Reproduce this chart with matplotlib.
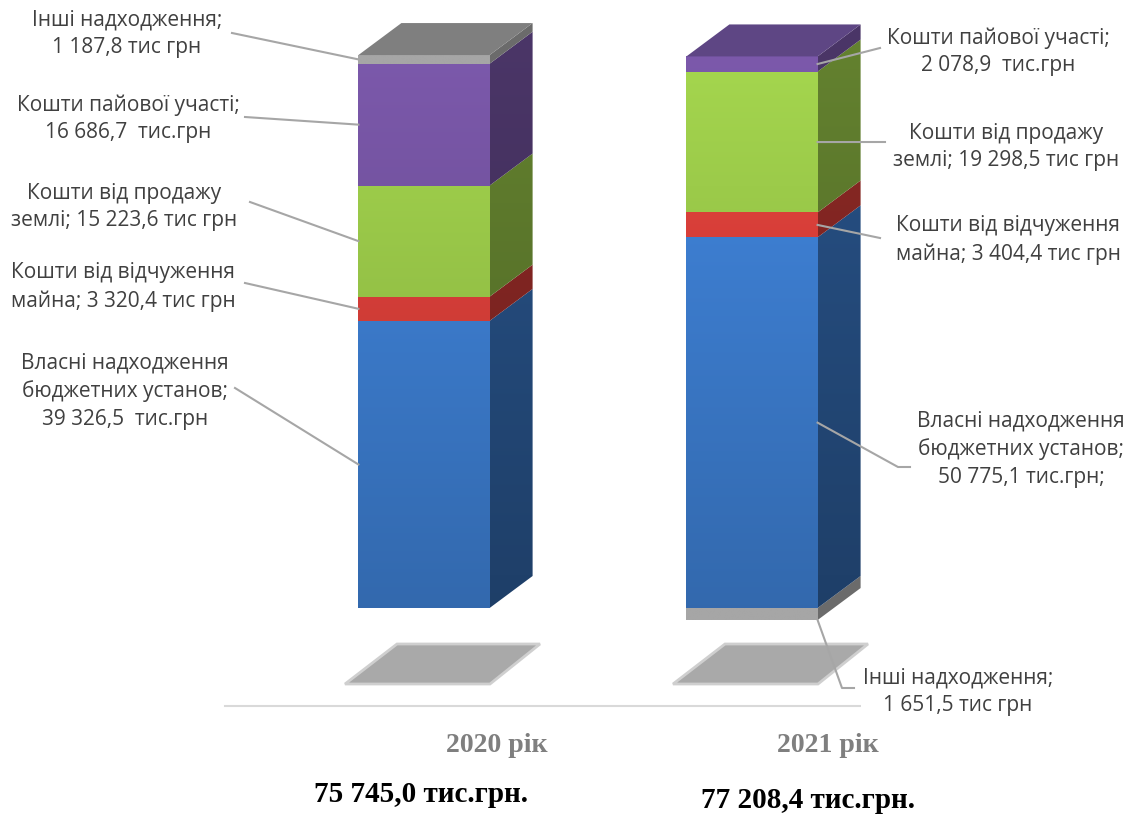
import numpy as np
import matplotlib
matplotlib.use("Agg")
import matplotlib.pyplot as plt
from matplotlib.patches import Polygon
from matplotlib.colors import to_rgb

W, H = 1133, 814

years = ["2020 рік", "2021 рік"]
totals = ["75 745,0 тис.грн.", "77 208,4 тис.грн."]

# тис. грн
own = [39326.5, 50775.1]
alienation = [3320.4, 3404.4]
land = [15223.6, 19298.5]
share = [16686.7, 2078.9]
other = [1187.8, 1651.5]

labels_2020 = [
    "Власні надходження\nбюджетних установ;\n39 326,5  тис.грн",
    "Кошти від відчуження\nмайна; 3 320,4 тис грн",
    "Кошти від продажу\nземлі; 15 223,6 тис грн",
    "Кошти пайової участі;\n16 686,7  тис.грн",
    "Інші надходження;\n1 187,8 тис грн",
]
labels_2021 = [
    "Власні надходження\nбюджетних установ;\n50 775,1 тис.грн;",
    "Кошти від відчуження\nмайна; 3 404,4 тис грн",
    "Кошти від продажу\nземлі; 19 298,5 тис грн",
    "Кошти пайової участі;\n2 078,9  тис.грн",
    "Інші надходження;\n1 651,5 тис грн",
]

colors = ["#3e80d4", "#dc403a", "#9ccb4a", "#7554a2", "#a6a6a6"]
top_colors = ["#2f5f9e", "#a8302c", "#6f9636", "#5e4684", "#7f7f7f"]
shaded = [True, True, True, True, False]

# layout: x in bar slots, y in тис. грн
PX_X, PX_Y = 328.0, 0.0073
X_ZERO, Y_ZERO = 424.0, 608.0
BW = 0.4
DX, DY = 43 / PX_X, 32 / PX_Y


def px(x, y):
    return (x - X_ZERO) / PX_X, (Y_ZERO - y) / PX_Y


def shade(c, f):
    return np.clip(np.array(to_rgb(c)) * f, 0, 1)


def ramp(v):
    return np.clip(0.82 + 0.25 * v / 80000.0, 0.7, 1.1)


fig = plt.figure(figsize=(W / 100, H / 100), dpi=100)
ax = fig.add_axes([0, 0, 1, 1])
ax.set_autoscale_on(False)
ax.set_xlim(px(0, 0)[0], px(W, 0)[0])
ax.set_ylim(px(0, H)[1], px(0, 0)[1])
ax.axis("off")


def gradient_face(verts, color, k, z, grad=True):
    poly = Polygon(verts, closed=True, facecolor="none", edgecolor="none",
                   transform=ax.transData)
    ax.add_patch(poly)
    xs = [p[0] for p in verts]
    ys = [p[1] for p in verts]
    vv = np.linspace(min(ys), max(ys), 80)
    arr = np.array([shade(color, k * (ramp(v) if grad else 1.0))
                    for v in vv])[:, None, :]
    im = ax.imshow(arr, extent=(min(xs), max(xs), min(ys), max(ys)),
                   origin="lower", aspect="auto", interpolation="bilinear",
                   zorder=z)
    im.set_clip_path(poly)


def segments(i):
    vals = [own[i], alienation[i], land[i], share[i], other[i]]
    segs = []
    if i == 1:
        # other income sits below the baseline in 2021
        segs.append((4, -other[i], 0.0))
        order = [0, 1, 2, 3]
    else:
        order = [0, 1, 2, 3, 4]
    base = 0.0
    for s in order:
        segs.append((s, base, base + vals[s]))
        base += vals[s]
    return segs


# floor shadows
for i in range(2):
    corners = [px(397, 644), px(540, 644), px(490, 684), px(345, 684)]
    pts = [(x + i, y) for x, y in corners]
    ax.add_patch(Polygon(pts, closed=True, facecolor="#a9a9a9",
                         edgecolor="#cfcfcf", lw=2, zorder=1))

# baseline
bx0, by = px(225, 706)
bx1, _ = px(1030, 706)
ax.plot([bx0, bx1], [by, by], color="#d9d9d9", lw=1.5, zorder=1)

seg_mid = {}
for i in range(2):
    x0, x1 = i - BW / 2, i + BW / 2
    segs = segments(i)
    for s, v0, v1 in segs:
        side = [(x1, v0), (x1 + DX, v0 + DY), (x1 + DX, v1 + DY), (x1, v1)]
        gradient_face(side, colors[s], 0.6 if shaded[s] else 0.65, 2, shaded[s])
        front = [(x0, v0), (x1, v0), (x1, v1), (x0, v1)]
        gradient_face(front, colors[s], 1.0, 3, shaded[s])
        seg_mid[(i, s)] = (v0 + v1) / 2
    s_top, _, vtop = segs[-1]
    ax.add_patch(Polygon([(x0, vtop), (x0 + DX, vtop + DY),
                          (x1 + DX, vtop + DY), (x1, vtop)], closed=True,
                         facecolor=top_colors[s_top], edgecolor="none", zorder=4))

label_font = dict(family=["Open Sans", "DejaVu Sans"], fontsize=15,
                  color="#404040", ha="center", va="center", linespacing=1.4)

# 2020 labels on the left
pos_2020 = [(125, 391), (123, 287), (124, 207), (128, 119), (127, 34)]
anchor_2020 = [(235, 388), (245, 283), (250, 202), (245, 117), (232, 33)]
for s in range(5):
    ax.text(*px(*pos_2020[s]), labels_2020[s], zorder=6, **label_font)
    ax_, ay_ = px(*anchor_2020[s])
    ax.plot([ax_, -BW / 2], [ay_, seg_mid[(0, s)]], color="#a6a6a6", lw=1.5, zorder=5)

# 2021 labels on the right
pos_2021 = [(1021, 449), (1008, 240), (1006, 147), (998, 52), (958, 692)]
anchor_2021 = [(898, 467), (880, 238), (885, 142), (880, 48), (842, 688)]
for s in range(5):
    bbox = dict(facecolor="white", edgecolor="none", pad=1) if s == 4 else None
    ax.text(*px(*pos_2021[s]), labels_2021[s], zorder=6, bbox=bbox, **label_font)
    ax_, ay_ = px(*anchor_2021[s])
    ys = -other[1] if s == 4 else seg_mid[(1, s)]
    xs = [1 + BW / 2, ax_]
    yv = [ys, ay_]
    if s in (0, 4):
        xs.append(ax_ + 12 / PX_X)
        yv.append(ay_)
    ax.plot(xs, yv, color="#a6a6a6", lw=1.5, zorder=5)

# category and total captions
for i, (xy, xt) in enumerate([((497, 745), (421, 794)), ((828, 745), (808, 800))]):
    ax.text(*px(*xy), years[i], family="Liberation Serif", fontweight="bold",
            fontsize=20, color="#7f7f7f", ha="center", va="center")
    ax.text(*px(*xt), totals[i], family="Liberation Serif", fontweight="bold",
            fontsize=21, color="black", ha="center", va="center")

fig.savefig("out.png", dpi=100)
